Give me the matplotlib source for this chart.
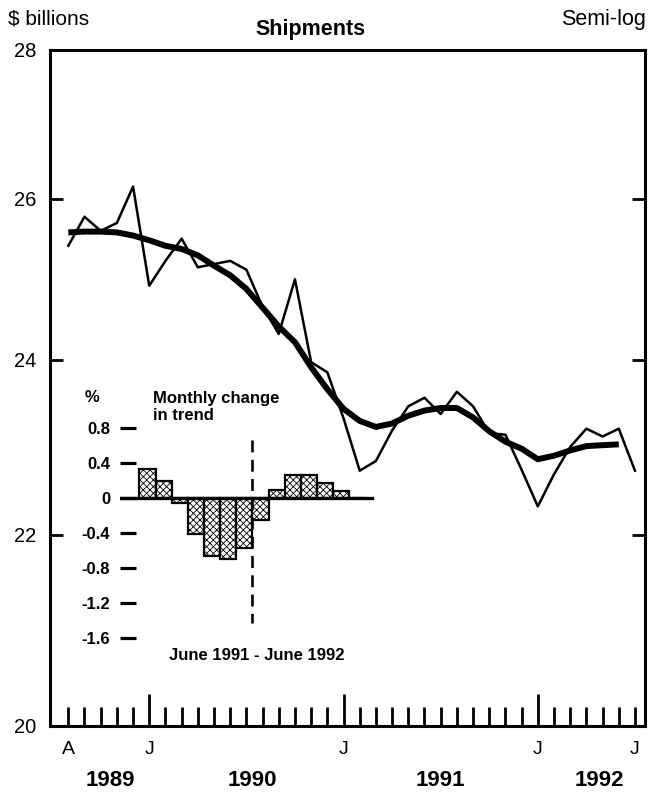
import numpy as np
import matplotlib
matplotlib.use('Agg')
import matplotlib.pyplot as plt
from matplotlib.ticker import NullLocator, NullFormatter

plt.rcParams['font.family'] = ['Liberation Sans', 'DejaVu Sans']
plt.rcParams['hatch.linewidth'] = 0.6

# shipments, $ billions, monthly, Aug 1989 - Jul 1992 (month 0 = Jul 1989)
months = np.arange(1, 37)
shipments = [25.40, 25.77, 25.59, 25.69, 26.16, 24.90, 25.21, 25.49, 25.13, 25.17,
             25.21, 25.10, 24.64, 24.31, 24.98, 23.97, 23.85, 23.31, 22.71, 22.82,
             23.17, 23.45, 23.55, 23.36, 23.62, 23.45, 23.14, 23.12, 22.72, 22.31,
             22.67, 22.98, 23.19, 23.10, 23.19, 22.71]
trend_months = np.arange(1, 36)
trend = [25.57, 25.58, 25.58, 25.57, 25.53, 25.47, 25.40, 25.36, 25.28, 25.15,
         25.03, 24.86, 24.63, 24.40, 24.21, 23.91, 23.65, 23.42, 23.28, 23.21,
         23.25, 23.34, 23.40, 23.43, 23.43, 23.32, 23.16, 23.04, 22.96, 22.84,
         22.88, 22.94, 22.99, 23.00, 23.01]

yticks = [20, 22, 24, 26, 28]
jan_ticks = [6, 18, 30]
month_labels = {1: 'A', 6: 'J', 18: 'J', 30: 'J', 36: 'J'}
years = ['1989', '1990', '1991', '1992']
year_pos = [3.6, 12.4, 24.0, 33.8]

# inset: monthly change in trend, %
change = [0.34, 0.20, -0.05, -0.41, -0.66, -0.69, -0.57, -0.25, 0.09, 0.27, 0.27, 0.17, 0.08, 0.0]
inset_ticks = [0.8, 0.4, 0, -0.4, -0.8, -1.2, -1.6]
inset_labels = ['0.8', '0.4', '0', '-0.4', '-0.8', '-1.2', '-1.6']

W, H = 652, 800
def fx(x): return x / W
def fy(y): return 1 - y / H

fig = plt.figure(figsize=(6.52, 8.0), dpi=100)

# main chart
ax = fig.add_axes([fx(50), fy(726), (645 - 50) / W, (726 - 50) / H])
ax.plot(months, shipments, color='black', lw=1.8)
ax.plot(trend_months, trend, color='black', lw=4.3, solid_capstyle='butt')
ax.set_yscale('log')
ax.set_ylim(20, 28)
ax.set_xlim(-0.13, 36.62)
ax.set_yticks(yticks)
ax.set_yticklabels([str(v) for v in yticks])
ax.yaxis.set_minor_locator(NullLocator())
ax.yaxis.set_minor_formatter(NullFormatter())
ax.tick_params(axis='y', which='major', direction='in', length=9.5, width=2,
               left=True, right=True, labelsize=14.5, pad=10)

ax.set_xticks(jan_ticks)
ax.set_xticklabels(['J'] * len(jan_ticks))
minor = [m for m in range(1, 37) if m not in jan_ticks]
ax.set_xticks(minor, minor=True)
ax.set_xticklabels([month_labels.get(m, '') for m in minor], minor=True)
ax.tick_params(axis='x', which='major', direction='in', length=23, width=2,
               labelsize=14, pad=10.5)
ax.tick_params(axis='x', which='minor', direction='in', length=13.7, width=2,
               labelsize=14, pad=10.5)
for sp in ax.spines.values():
    sp.set_linewidth(2.2)

for yr, xp in zip(years, year_pos):
    ax.text(xp, -0.08, yr, transform=ax.get_xaxis_transform(), ha='center',
            va='center', fontsize=16, fontweight='bold')

fig.text(fx(8), fy(19), '\\$ billions', ha='left', va='center', fontsize=15)
fig.text(fx(311), fy(30), 'Shipments', ha='center', va='center', fontsize=15.5, fontweight='bold')
fig.text(fx(646), fy(19), 'Semi-log', ha='right', va='center', fontsize=15.5)

# inset bars
bw = 16.15
ins = fig.add_axes([fx(120), fy(645), (380 - 120) / W, (645 - 420) / H])
ins.patch.set_alpha(0)
ins.set_xlim((120 - 147.5) / bw, (380 - 147.5) / bw)
ins.set_ylim((498.3 - 645) / 87.5, (498.3 - 420) / 87.5)
x = np.arange(len(change))
ins.bar(x, change, width=1.0, facecolor='white', edgecolor='black', lw=1.6, hatch='xxxxx')
ins.plot([ins.get_xlim()[0], 13.88], [0, 0], color='black', lw=2.4)
ins.plot([6.5, 6.5], [0.666, -1.43], color='black', lw=1.9, ls=(0, (4.5, 2.8)))
for sp in ins.spines.values():
    sp.set_visible(False)
ins.set_xticks([])
ins.set_yticks(inset_ticks)
ins.set_yticklabels(inset_labels)
ins.tick_params(axis='y', direction='in', length=11.5, width=2.3, labelsize=12, pad=7)
for lab in ins.get_yticklabels():
    lab.set_fontweight('bold')

fig.text(fx(92), fy(397), '%', ha='center', va='center', fontsize=12, fontweight='bold')
fig.text(fx(153), fy(391), 'Monthly change\nin trend', ha='left', va='top',
         fontsize=12, fontweight='bold', linespacing=1.15)
fig.text(fx(257), fy(656), 'June 1991 - June 1992', ha='center', va='center',
         fontsize=12, fontweight='bold')

fig.savefig('out.png', dpi=100)
